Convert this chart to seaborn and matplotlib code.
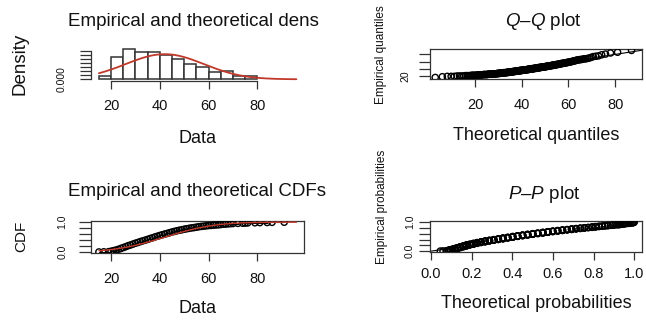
import statistics

import numpy as np
import pandas as pd
import matplotlib
matplotlib.use("Agg")
import matplotlib.pyplot as plt
import seaborn as sns

# --- STILE ---
sns.set_theme(style="ticks")
plt.rcParams['font.family'] = ['Liberation Sans', 'DejaVu Sans']
plt.rcParams['mathtext.fontset'] = 'custom'
plt.rcParams['mathtext.it'] = 'Liberation Sans:italic'
plt.rcParams['mathtext.rm'] = 'Liberation Sans'
plt.rcParams['text.color'] = '#111111'
plt.rcParams['axes.labelcolor'] = '#111111'

RED = '#c0392b'
INK = '#333333'

# --- DATI ---
# eta' intere 15..91 e quante osservazioni per ciascuna
ages = list(range(15, 92))
counts = [1, 0, 1, 0, 1,      # 15-19
          3, 4, 4, 5, 6,      # 20-24
          6, 6, 7, 5, 6,      # 25-29
          6, 5, 6, 5, 5,      # 30-34
          5, 6, 5, 6, 5,      # 35-39
          5, 5, 5, 4, 5,      # 40-44
          5, 4, 4, 4, 3,      # 45-49
          4, 3, 3, 3, 2,      # 50-54
          3, 3, 2, 2, 2,      # 55-59
          2, 1, 2, 1, 1,      # 60-64
          2, 2, 1, 2, 1,      # 65-69
          1, 0, 1, 0, 1,      # 70-74
          1, 1, 0, 0, 1,      # 75-79
          0, 1, 0, 0, 1, 0, 1, 0, 0, 0, 0, 1]   # 80-91

fit_mean = 42.0
fit_sd = 16.0
data_range = (15, 96)
hist_breaks = [15, 20, 25, 30, 35, 40, 45, 50, 55, 60, 65, 70, 75, 80]
data_ticks = [20, 40, 60, 80]
density_ticks = [0.000, 0.004, 0.008, 0.012, 0.016, 0.020, 0.024, 0.028]
qq_yticks = [20, 40, 60, 80]
prob_ticks = [0.0, 0.2, 0.4, 0.6, 0.8, 1.0]
qq_xlim = (0.7, 91.4)
pp_xlim = (-0.005, 1.036)

W, H = 646, 320
fig = plt.figure(figsize=(W / 100, H / 100), dpi=100)


def add_box(left, top, right, bottom):
    """Axes in coordinate pixel (dall'alto)."""
    return fig.add_axes([left / W, 1 - bottom / H, (right - left) / W, (bottom - top) / H])


def r_lim(lo, hi):
    pad = 0.04 * (hi - lo)
    return lo - pad, hi + pad


def style_axes(ax, xpad, ypad, ylen=8):
    for side in ax.spines.values():
        side.set_color(INK)
        side.set_linewidth(0.9)
    ax.tick_params(axis='x', length=5.8, width=0.9, pad=xpad, labelsize=10.5,
                   color=INK, labelcolor='#111111')
    ax.tick_params(axis='y', length=ylen, width=0.9, pad=ypad, labelsize=7.5,
                   color=INK, labelcolor='#111111')


def circles(ax, x, y):
    sns.scatterplot(x=x, y=y, s=20, color='none', edgecolor='black',
                    linewidth=1.0, ax=ax, zorder=3)


df = pd.DataFrame({'age': np.repeat(ages, counts)})
values = np.sort(df['age'].to_numpy())
n = len(values)
fit = statistics.NormalDist(fit_mean, fit_sd)
grid = np.linspace(data_range[0], data_range[1], 300)
probs = (np.arange(1, n + 1) - 0.5) / n

# 1. Densita'
ax1 = add_box(91, 48, 304.3, 80.5)
sns.histplot(df, x='age', stat='density', bins=hist_breaks, color='white',
             edgecolor='#333333', linewidth=1.1, alpha=1, ax=ax1)
sns.lineplot(x=grid, y=[fit.pdf(v) for v in grid], color=RED, lw=1.3, ax=ax1)
top = max(p.get_height() for p in ax1.patches)
ax1.set_xlim(r_lim(*data_range))
ax1.set_ylim(-0.04 * top, 1.04 * top)
ax1.spines[['top', 'right']].set_visible(False)
ax1.spines['bottom'].set_bounds(data_ticks[0], data_ticks[-1])
ax1.spines['left'].set_bounds(density_ticks[0], density_ticks[-1])
ax1.set_xticks(data_ticks, [str(t) for t in data_ticks])
ax1.set_yticks(density_ticks, [f"{density_ticks[0]:.3f}"] + [''] * (len(density_ticks) - 1),
               rotation=90, va='center')
style_axes(ax1, 7.8, 9.4)
ax1.set_title('Empirical and theoretical dens', fontsize=13.5, pad=15.8,
              x=-0.1064, ha='left')
ax1.set_xlabel('Data', fontsize=13)
ax1.xaxis.set_label_coords(0.5, -1.52)
ax1.set_ylabel('Density', fontsize=13.5)
ax1.yaxis.set_label_coords(-0.292, 0.52)

# 2. Q-Q
ax2 = add_box(430, 49.3, 641.7, 79.3)
theo_q = [fit.inv_cdf(p) for p in probs]
circles(ax2, theo_q, values)
ax2.axline((0, 0), slope=1, color='black', lw=0.8)
ax2.set_xlim(qq_xlim)
ax2.set_ylim(r_lim(values.min(), values.max()))
ax2.set_xticks(data_ticks, [str(t) for t in data_ticks])
ax2.set_yticks(qq_yticks, [str(qq_yticks[0])] + [''] * (len(qq_yticks) - 1),
               rotation=90, va='center')
style_axes(ax2, 7.9, 6.3)
ax2.set_title(r'$\mathit{Q–Q}$ plot', fontsize=13.5, pad=16.8, x=0.535)
ax2.set_xlabel('Theoretical quantiles', fontsize=13)
ax2.xaxis.set_label_coords(0.5, -1.58)
ax2.set_ylabel('Empirical quantiles', fontsize=8.5)
ax2.yaxis.set_label_coords(-0.205, 0.81)

# 3. CDF
ax3 = add_box(91, 221, 304.3, 253.3)
uniq = np.array([a for a, c in zip(ages, counts) if c > 0])
ecdf_y = np.cumsum([c for c in counts if c > 0]) / n
sns.ecdfplot(df, x='age', color='black', lw=0.8, ax=ax3)
circles(ax3, uniq, ecdf_y)
sns.lineplot(x=grid, y=[fit.cdf(v) for v in grid], color=RED, lw=1.0, ax=ax3, zorder=4)
ax3.set_xlim(r_lim(*data_range))
ax3.set_ylim(r_lim(0, 1))
ax3.set_xticks(data_ticks, [str(t) for t in data_ticks])
ax3.set_yticks(prob_ticks, ['0.0', '', '', '', '', '1.0'], rotation=90, va='center')
style_axes(ax3, 7.5, 8, ylen=9)
ax3.set_title('Empirical and theoretical CDFs', fontsize=13.5, pad=18,
              x=-0.1064, ha='left')
ax3.set_xlabel('Data', fontsize=13)
ax3.xaxis.set_label_coords(0.5, -1.446)
ax3.set_ylabel('CDF', fontsize=11)
ax3.yaxis.set_label_coords(-0.293, 0.514)

# 4. P-P
ax4 = add_box(430, 221, 641.7, 252.3)
theo_p = [fit.cdf(v) for v in values]
circles(ax4, theo_p, probs)
ax4.axline((0, 0), slope=1, color='black', lw=0.8)
ax4.set_xlim(pp_xlim)
ax4.set_ylim(r_lim(0, 1))
ax4.set_xticks(prob_ticks, [f"{t:.1f}" for t in prob_ticks])
ax4.set_yticks(prob_ticks, ['0.0', '', '', '', '', '1.0'], rotation=90, va='center')
style_axes(ax4, 4.6, 3)
ax4.set_title(r'$\mathit{P–P}$ plot', fontsize=13.5, pad=15.6, x=0.54)
ax4.set_xlabel('Theoretical probabilities', fontsize=13)
ax4.xaxis.set_label_coords(0.5, -1.364)
ax4.set_ylabel('Empirical probabilities', fontsize=8.5)
ax4.yaxis.set_label_coords(-0.2, 1.447)

fig.savefig('out.png', dpi=100)
